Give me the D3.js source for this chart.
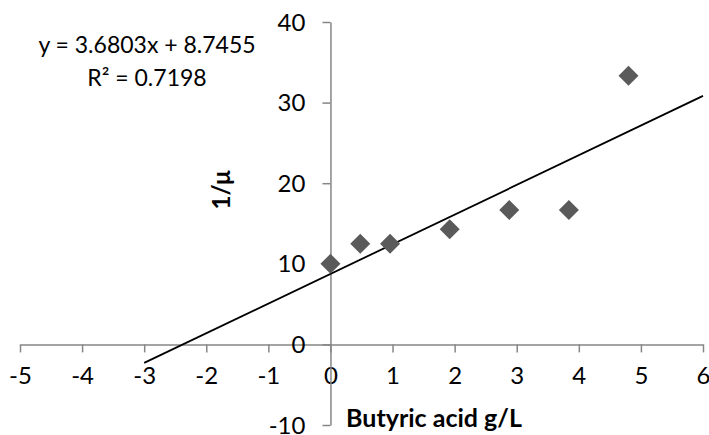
<!DOCTYPE html>
<html>
<head>
<meta charset="utf-8">
<script src="https://cdn.jsdelivr.net/npm/d3@7"></script>
<style>
  html, body { margin: 0; padding: 0; background: #fff; }
  svg text { font-family: Lato, "Open Sans", sans-serif; fill: #000; }
</style>
</head>
<body>
<svg id="chart" width="709" height="435"></svg>
<script>
// Butyric acid concentration (g/L) against inverse specific growth rate
const xValues = [0, 0.48, 0.96, 1.92, 2.88, 3.84, 4.8];
const yValues = [10, 12.5, 12.5, 14.29, 16.67, 16.67, 33.33];
const xTicks = [-5, -4, -3, -2, -1, 0, 1, 2, 3, 4, 5, 6];
const yTicks = [-10, 0, 10, 20, 30, 40];
const slope = 3.6803;
const intercept = 8.7455;
const rSquared = 0.7198;
const trendRange = [-3, 6];

const svg = d3.select("#chart");
const x = d3.scaleLinear().domain([-5, 6]).range([20, 703]);
const y = d3.scaleLinear().domain([-10, 40]).range([425, 22]);

const axisColor = "#868686";
const tickFont = 24;
const signed = d => d < 0 ? "-" + Math.abs(d) : String(d);

// horizontal axis through y = 0, ticks pointing down
const gx = svg.append("g").attr("transform", `translate(0,${y(0)})`)
  .call(d3.axisBottom(x).tickValues(xTicks).tickSize(8).tickSizeOuter(0).tickFormat(signed));
gx.select(".domain").attr("stroke", axisColor).attr("stroke-width", 1.5);
gx.selectAll(".tick line").attr("stroke", axisColor).attr("stroke-width", 1.5);
gx.selectAll(".tick text").style("font-size", tickFont + "px")
  .attr("fill", "#000").attr("y", 0).attr("dy", "1.65em");

// vertical axis through x = 0, ticks pointing left
const gy = svg.append("g").attr("transform", `translate(${x(0)},0)`)
  .call(d3.axisLeft(y).tickValues(yTicks).tickSize(8).tickSizeOuter(0).tickFormat(signed));
gy.select(".domain").attr("stroke", axisColor).attr("stroke-width", 1.5);
gy.selectAll(".tick line").attr("stroke", axisColor).attr("stroke-width", 1.5);
gy.selectAll(".tick text").style("font-size", tickFont + "px")
  .attr("fill", "#000").attr("x", -25).attr("dy", "0.34em");
svg.selectAll("g").attr("font-family", null).attr("font-size", null);

// linear trendline
svg.append("line")
  .attr("x1", x(trendRange[0])).attr("y1", y(slope * trendRange[0] + intercept))
  .attr("x2", x(trendRange[1])).attr("y2", y(slope * trendRange[1] + intercept))
  .attr("stroke", "#000").attr("stroke-width", 1.8);

// data markers
const r = 10;
svg.append("g").selectAll("path")
  .data(xValues.map((v, i) => [v, yValues[i]]))
  .join("path")
  .attr("d", d => `M${x(d[0])},${y(d[1]) - r}L${x(d[0]) + r},${y(d[1])}L${x(d[0])},${y(d[1]) + r}L${x(d[0]) - r},${y(d[1])}Z`)
  .attr("fill", "#5a5a5a");

// trendline equation
svg.append("text").attr("x", 147).attr("y", 53).attr("text-anchor", "middle")
  .attr("font-size", 23).text(`y = ${slope}x + ${intercept}`);
svg.append("text").attr("x", 147).attr("y", 86).attr("text-anchor", "middle")
  .attr("font-size", 23).text(`R² = ${rSquared}`);

// axis titles
svg.append("text").attr("x", 434).attr("y", 427).attr("text-anchor", "middle")
  .attr("font-size", 25).attr("font-weight", "bold").text("Butyric acid g/L");
svg.append("text").attr("transform", "translate(230,190) rotate(-90)")
  .attr("text-anchor", "middle").attr("font-size", 24).attr("font-weight", "bold").text("1/μ");
</script>
</body>
</html>
